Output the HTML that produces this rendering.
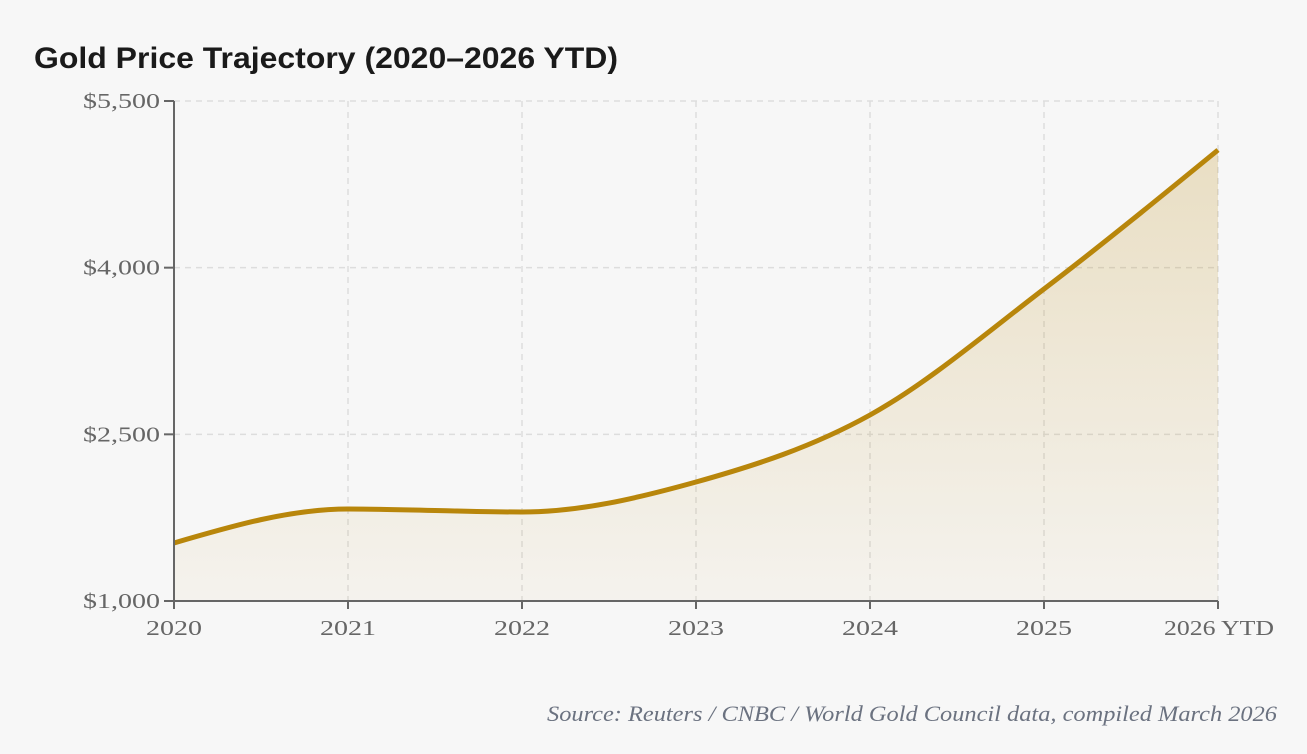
<!DOCTYPE html>
<html><head><meta charset="utf-8"><style>
html,body{margin:0;padding:0;background:#f7f7f7;}
svg{display:block;}
.tick{font-family:"Liberation Serif",serif;font-size:21px;fill:#666;}
</style></head><body>
<svg id="chart" width="1307" height="754" viewBox="0 0 1307 754">
<defs><linearGradient id="fillg" x1="0" y1="0" x2="0" y2="1">
<stop offset="0" stop-color="#b8860b" stop-opacity="0.22"/><stop offset="1" stop-color="#b8860b" stop-opacity="0.04"/></linearGradient></defs>
<rect width="1307" height="754" fill="#f7f7f7"/>
<text x="34" y="68" font-family="Liberation Sans, sans-serif" font-weight="bold" font-size="30" fill="#1a1a1a" textLength="584" lengthAdjust="spacingAndGlyphs">Gold Price Trajectory (2020–2026 YTD)</text>
<g id="grid"></g><g id="plot"></g><g id="axes"></g>
<text x="547" y="721" font-family="Liberation Serif, serif" font-style="italic" font-size="22" fill="#6b7280" textLength="730" lengthAdjust="spacingAndGlyphs">Source: Reuters / CNBC / World Gold Council data, compiled March 2026</text>
</svg>
<script>
const categories=["2020","2021","2022","2023","2024","2025","2026 YTD"];
const prices=[1522,1828,1801,2071,2674,3808,5059];
const yTicks=[1000,2500,4000,5500];
const yTickLabels=["$1,000","$2,500","$4,000","$5,500"];
const NS="http://www.w3.org/2000/svg";
const x0=174,x1=1218,yTop=101,yBot=601,yMin=1000,yMax=5500;
const xs=i=>x0+(x1-x0)*i/(categories.length-1);
const ys=v=>yBot-(v-yMin)/(yMax-yMin)*(yBot-yTop);
function mk(tag,attrs,parent){const e=document.createElementNS(NS,tag);for(const k in attrs)e.setAttribute(k,attrs[k]);parent.appendChild(e);return e;}
const grid=document.getElementById('grid'),plot=document.getElementById('plot'),axes=document.getElementById('axes');
yTicks.forEach((t,i)=>{
 if(t>yMin){const l=mk('line',{x1:x0,x2:x1,y1:ys(t),y2:ys(t),stroke:'#ddd','stroke-dasharray':'6 5','stroke-width':1.5},grid);
 }
 const tk=mk('line',{x1:x0-10,x2:x0,y1:ys(t),y2:ys(t),stroke:'#666','stroke-width':2},axes);
 
 const tx=mk('text',{x:x0-14,y:ys(t)+7,'text-anchor':'end',class:'tick',textLength:77,lengthAdjust:'spacingAndGlyphs'},axes);tx.textContent=yTickLabels[i];
 
});
categories.forEach((c,i)=>{
 if(i>0){const l=mk('line',{x1:xs(i),x2:xs(i),y1:yTop,y2:yBot,stroke:'#ddd','stroke-dasharray':'6 5','stroke-width':1.5},grid);
 }
 const tk=mk('line',{x1:xs(i),x2:xs(i),y1:yBot,y2:yBot+8,stroke:'#666','stroke-width':2},axes);
 
 const isLast=i===categories.length-1;
 const tx=mk('text',{x:isLast?xs(i)-54:xs(i)-28,y:yBot+34,'text-anchor':'start',class:'tick',textLength:isLast?110:56,lengthAdjust:'spacingAndGlyphs'},axes);tx.textContent=c;
 
});
const ya=mk('line',{x1:x0,x2:x0,y1:yTop,y2:yBot,stroke:'#666','stroke-width':2},axes);

const xa=mk('line',{x1:x0,x2:x1,y1:yBot,y2:yBot,stroke:'#666','stroke-width':2},axes);

const pts=prices.map((v,i)=>[xs(i),ys(v)]);
// monotone X interpolation
const n=pts.length,dx=[],sl=[],m=[];
for(let i=0;i<n-1;i++){dx[i]=pts[i+1][0]-pts[i][0];sl[i]=(pts[i+1][1]-pts[i][1])/dx[i];}
for(let i=1;i<n-1;i++){
 const s0=sl[i-1],s1=sl[i];
 if(s0*s1<=0)m[i]=0;else{const p=(s0*dx[i]+s1*dx[i-1])/(dx[i-1]+dx[i]);
 m[i]=(Math.sign(s0)+Math.sign(s1))*Math.min(Math.abs(s0),Math.abs(s1),0.5*Math.abs(p));}
}
m[0]=(3*sl[0]-m[1])/2; m[n-1]=(3*sl[n-2]-m[n-2])/2;
let d=`M${pts[0][0]},${pts[0][1]}`;
for(let i=0;i<n-1;i++){
 const h=dx[i]/3;
 d+=` C${pts[i][0]+h},${pts[i][1]+h*m[i]} ${pts[i+1][0]-h},${pts[i+1][1]-h*m[i+1]} ${pts[i+1][0]},${pts[i+1][1]}`;
}
const area=mk('path',{d:d+` L${pts[n-1][0]},${yBot} L${pts[0][0]},${yBot} Z`,fill:'url(#fillg)'},plot);

const line=mk('path',{d:d,fill:'none',stroke:'#b8860b','stroke-width':5,'stroke-linejoin':'round'},plot);

</script>
</body></html>
